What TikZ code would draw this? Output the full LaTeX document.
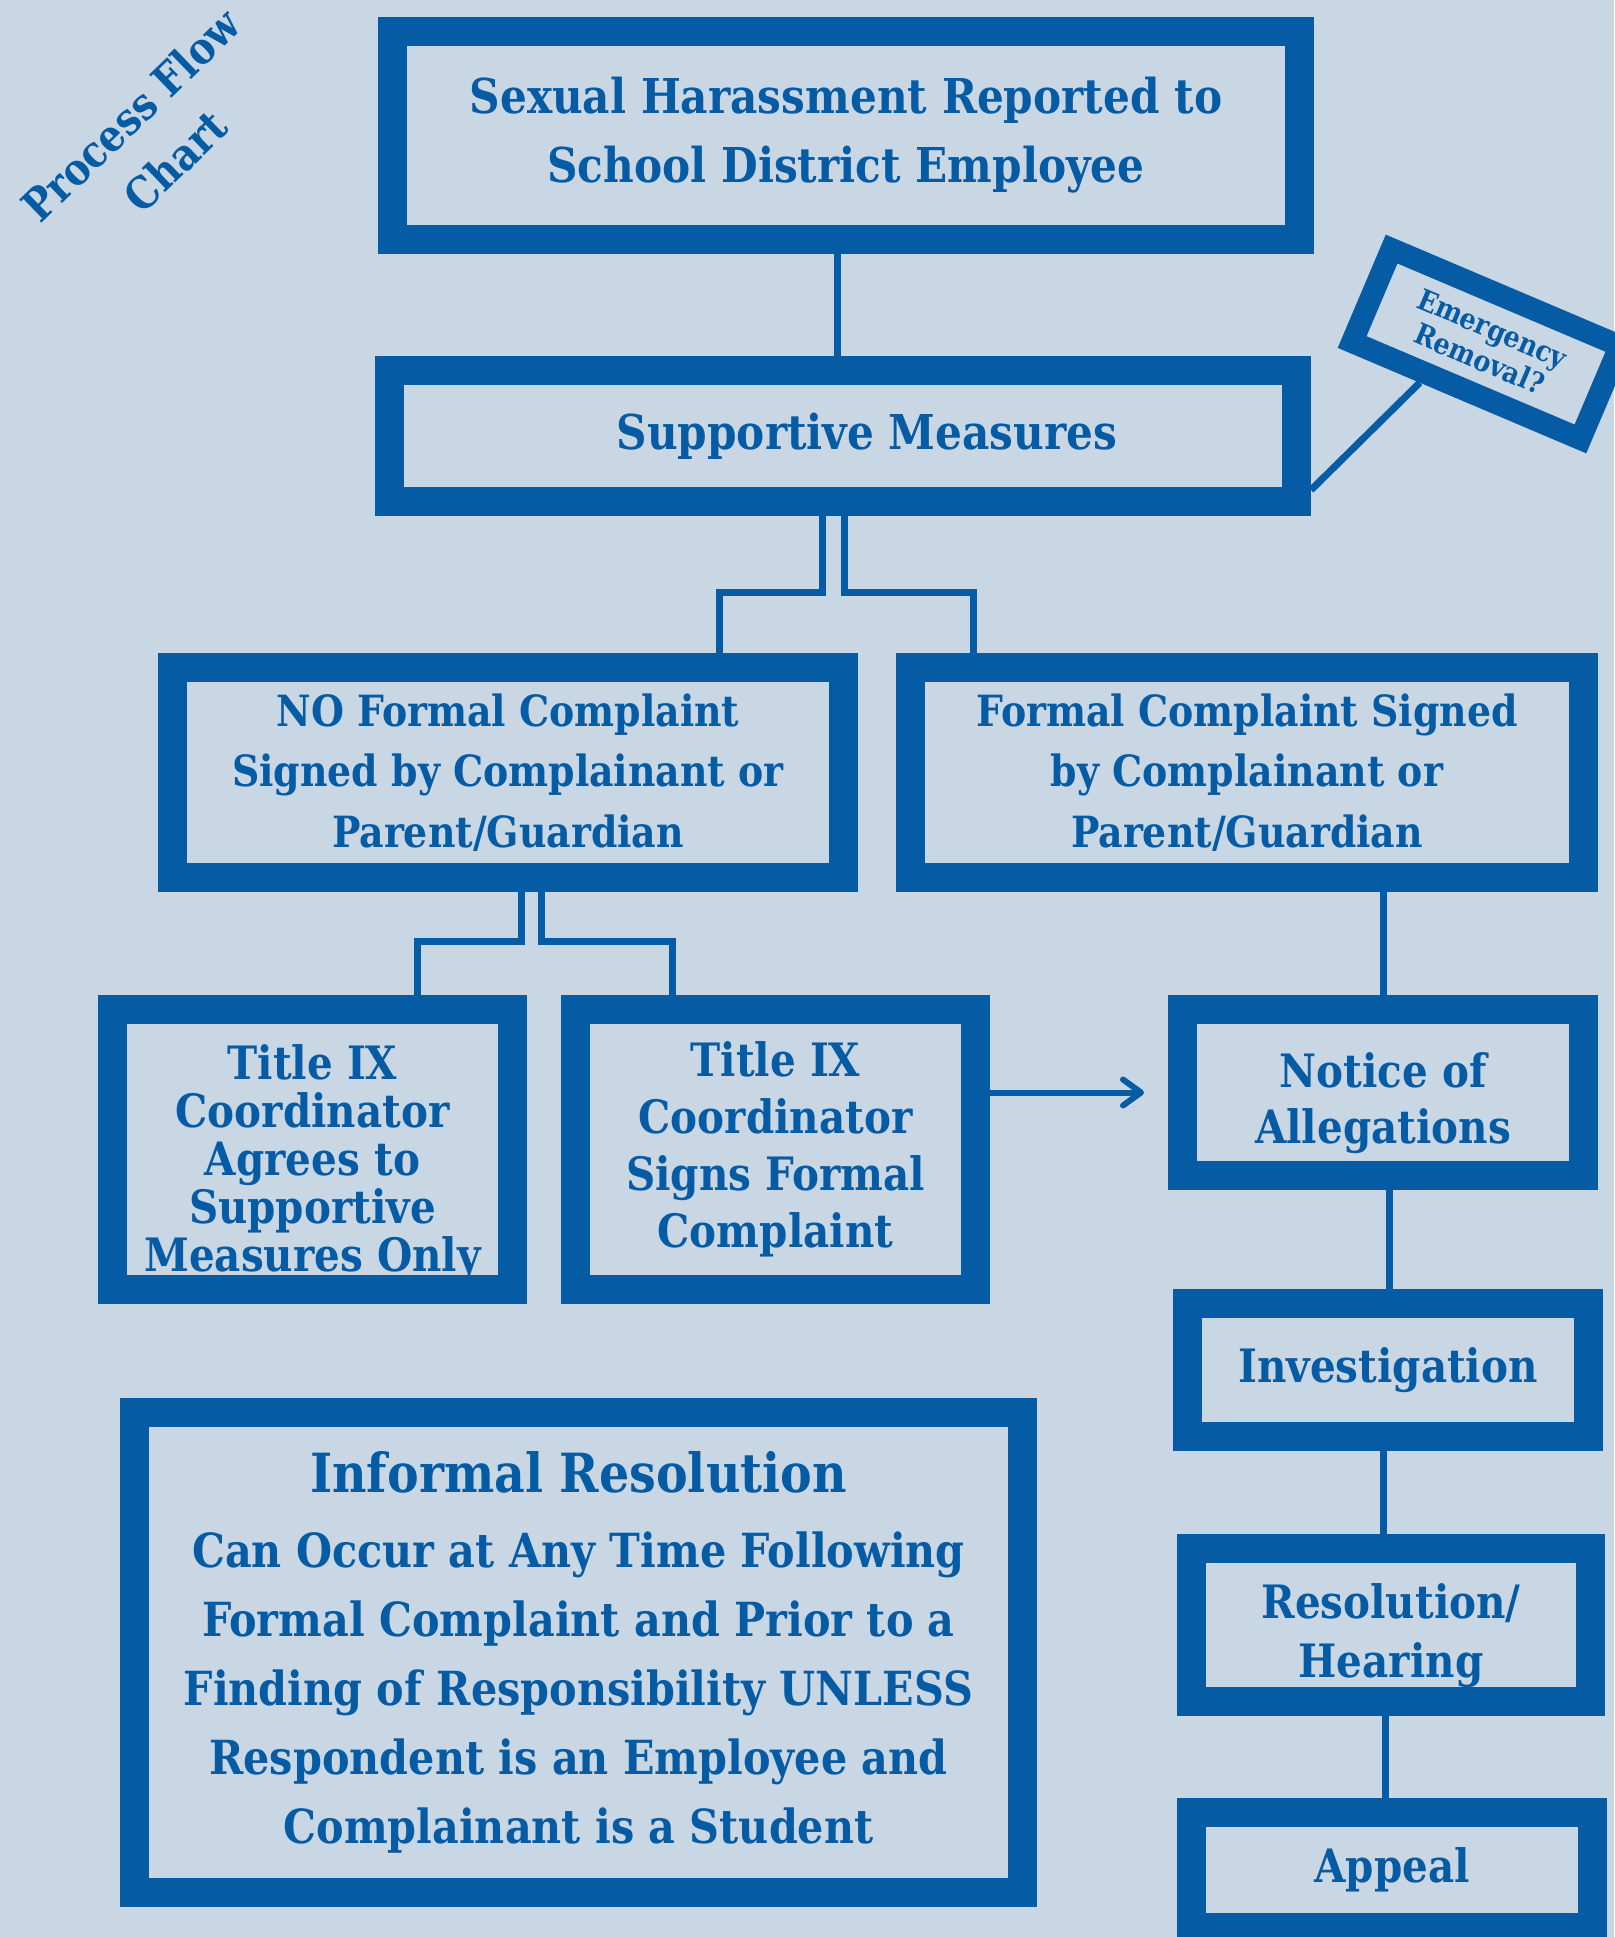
\documentclass[tikz,border=0pt]{standalone}
\usepackage{fontspec}
\setmainfont{DejaVu Serif}[FakeStretch=0.88]
\usetikzlibrary{arrows.meta,positioning,calc}
\definecolor{titleblue}{RGB}{6,91,165}
\definecolor{paleblue}{RGB}{201,215,228}

\begin{document}
\begin{tikzpicture}[
    x=1pt, y=-1pt,
    text=titleblue,
    stage/.style={rectangle, draw=titleblue, line width=29pt, align=center, inner sep=0pt},
    link/.style={draw=titleblue, line width=7pt},
    arrow/.style={-{Straight Barb[length=18pt,width=26pt,round]}, draw=titleblue, line width=6pt}
]
    \fill[paleblue] (0,0) rectangle (1614,1937);
    \useasboundingbox (0,0) rectangle (1614,1937);

    % Heading
    \node[rotate=44, align=center, font=\fontsize{44}{64}\selectfont\bfseries] (heading) at (153,138) {Process Flow\\Chart};

    % Top of the flow
    \node[stage, minimum width=907pt, minimum height=208pt, font=\fontsize{48}{69}\selectfont\bfseries] (report) at (846,135.5) {Sexual Harassment Reported to\\School District Employee};
    \node[stage, minimum width=907pt, minimum height=131pt, font=\fontsize{48}{69}\selectfont\bfseries] (supportive) at (843,436) {\hspace*{48pt}Supportive Measures};
    \node[stage, line width=22pt, rotate=-23, minimum width=248pt, minimum height=101pt, font=\fontsize{29}{33}\selectfont\bfseries] (emergency) at (1486,344) {Emergency\\Removal?};

    % Complaint branches
    \node[stage, minimum width=671pt, minimum height=210pt, font=\fontsize{43}{60.5}\selectfont\bfseries] (noformal) at (508,772.5) {NO Formal Complaint\\Signed by Complainant or\\Parent/Guardian};
    \node[stage, minimum width=673pt, minimum height=210pt, font=\fontsize{43}{60.5}\selectfont\bfseries] (formal) at (1247,772.5) {Formal Complaint Signed\\by Complainant or\\Parent/Guardian};

    % Coordinator decisions
    \node[stage, minimum width=400pt, minimum height=280pt, font=\fontsize{46}{48}\selectfont\bfseries] (agrees) at (312.5,1149.5) {\rule{0pt}{63pt}Title IX\\Coordinator\\Agrees to\\Supportive\\Measures Only};
    \node[stage, minimum width=400pt, minimum height=280pt, font=\fontsize{46}{57}\selectfont\bfseries] (signs) at (775.5,1149.5) {Title IX\\Coordinator\\Signs Formal\\Complaint};

    % Grievance process
    \node[stage, minimum width=401pt, minimum height=166pt, font=\fontsize{46}{56}\selectfont\bfseries] (notice) at (1383,1092.5) {\rule{0pt}{57pt}Notice of\\Allegations};
    \node[stage, minimum width=401pt, minimum height=133pt, font=\fontsize{46}{56}\selectfont\bfseries] (invest) at (1388,1370) {Investigation};
    \node[stage, minimum width=399pt, minimum height=153pt, font=\fontsize{46}{59}\selectfont\bfseries] (hearing) at (1391,1625) {\rule{0pt}{57pt}Resolution/\\Hearing};
    \node[stage, minimum width=401pt, minimum height=115pt, font=\fontsize{46}{56}\selectfont\bfseries] (appeal) at (1392,1870) {Appeal};

    % Informal resolution
    \node[stage, minimum width=888pt, minimum height=480pt, font=\fontsize{47}{69}\selectfont\bfseries] (informal) at (578.5,1652.5) {{\fontsize{54}{69}\selectfont Informal Resolution}\\[6pt]Can Occur at Any Time Following\\Formal Complaint and Prior to a\\Finding of Responsibility UNLESS\\Respondent is an Employee and\\Complainant is a Student};

    % Connectors
    \draw[link] ([xshift=-9pt]report.south) -- ([xshift=-6pt]supportive.north);
    \draw[link] ([yshift=-54pt]supportive.east) -- ($(emergency.south west)!0.33!(emergency.south east)$);
    \draw[link] ([xshift=-21pt]supportive.south) -- ++(0,76) -| ([xshift=211pt]noformal.north);
    \draw[link] ([xshift=1pt]supportive.south) -- ++(0,76) -| ([xshift=-274pt]formal.north);
    \draw[link] ([xshift=13pt]noformal.south) -- ++(0,49) -| ([xshift=105pt]agrees.north);
    \draw[link] ([xshift=33pt]noformal.south) -- ++(0,49) -| ([xshift=-103pt]signs.north);
    \draw[link] (formal.south -| notice.north) -- (notice.north);
    \draw[link] ([xshift=6pt]notice.south) -- ([xshift=6pt]notice.south |- invest.north);
    \draw[link] ([xshift=-5pt]invest.south) -- ([xshift=-5pt]invest.south |- hearing.north);
    \draw[link] ([xshift=-6pt]hearing.south) -- ([xshift=-6pt]hearing.south |- appeal.north);
    \draw[arrow] (signs.east |- notice.west) -- ([xshift=-24pt]notice.west);

\end{tikzpicture}
\end{document}
